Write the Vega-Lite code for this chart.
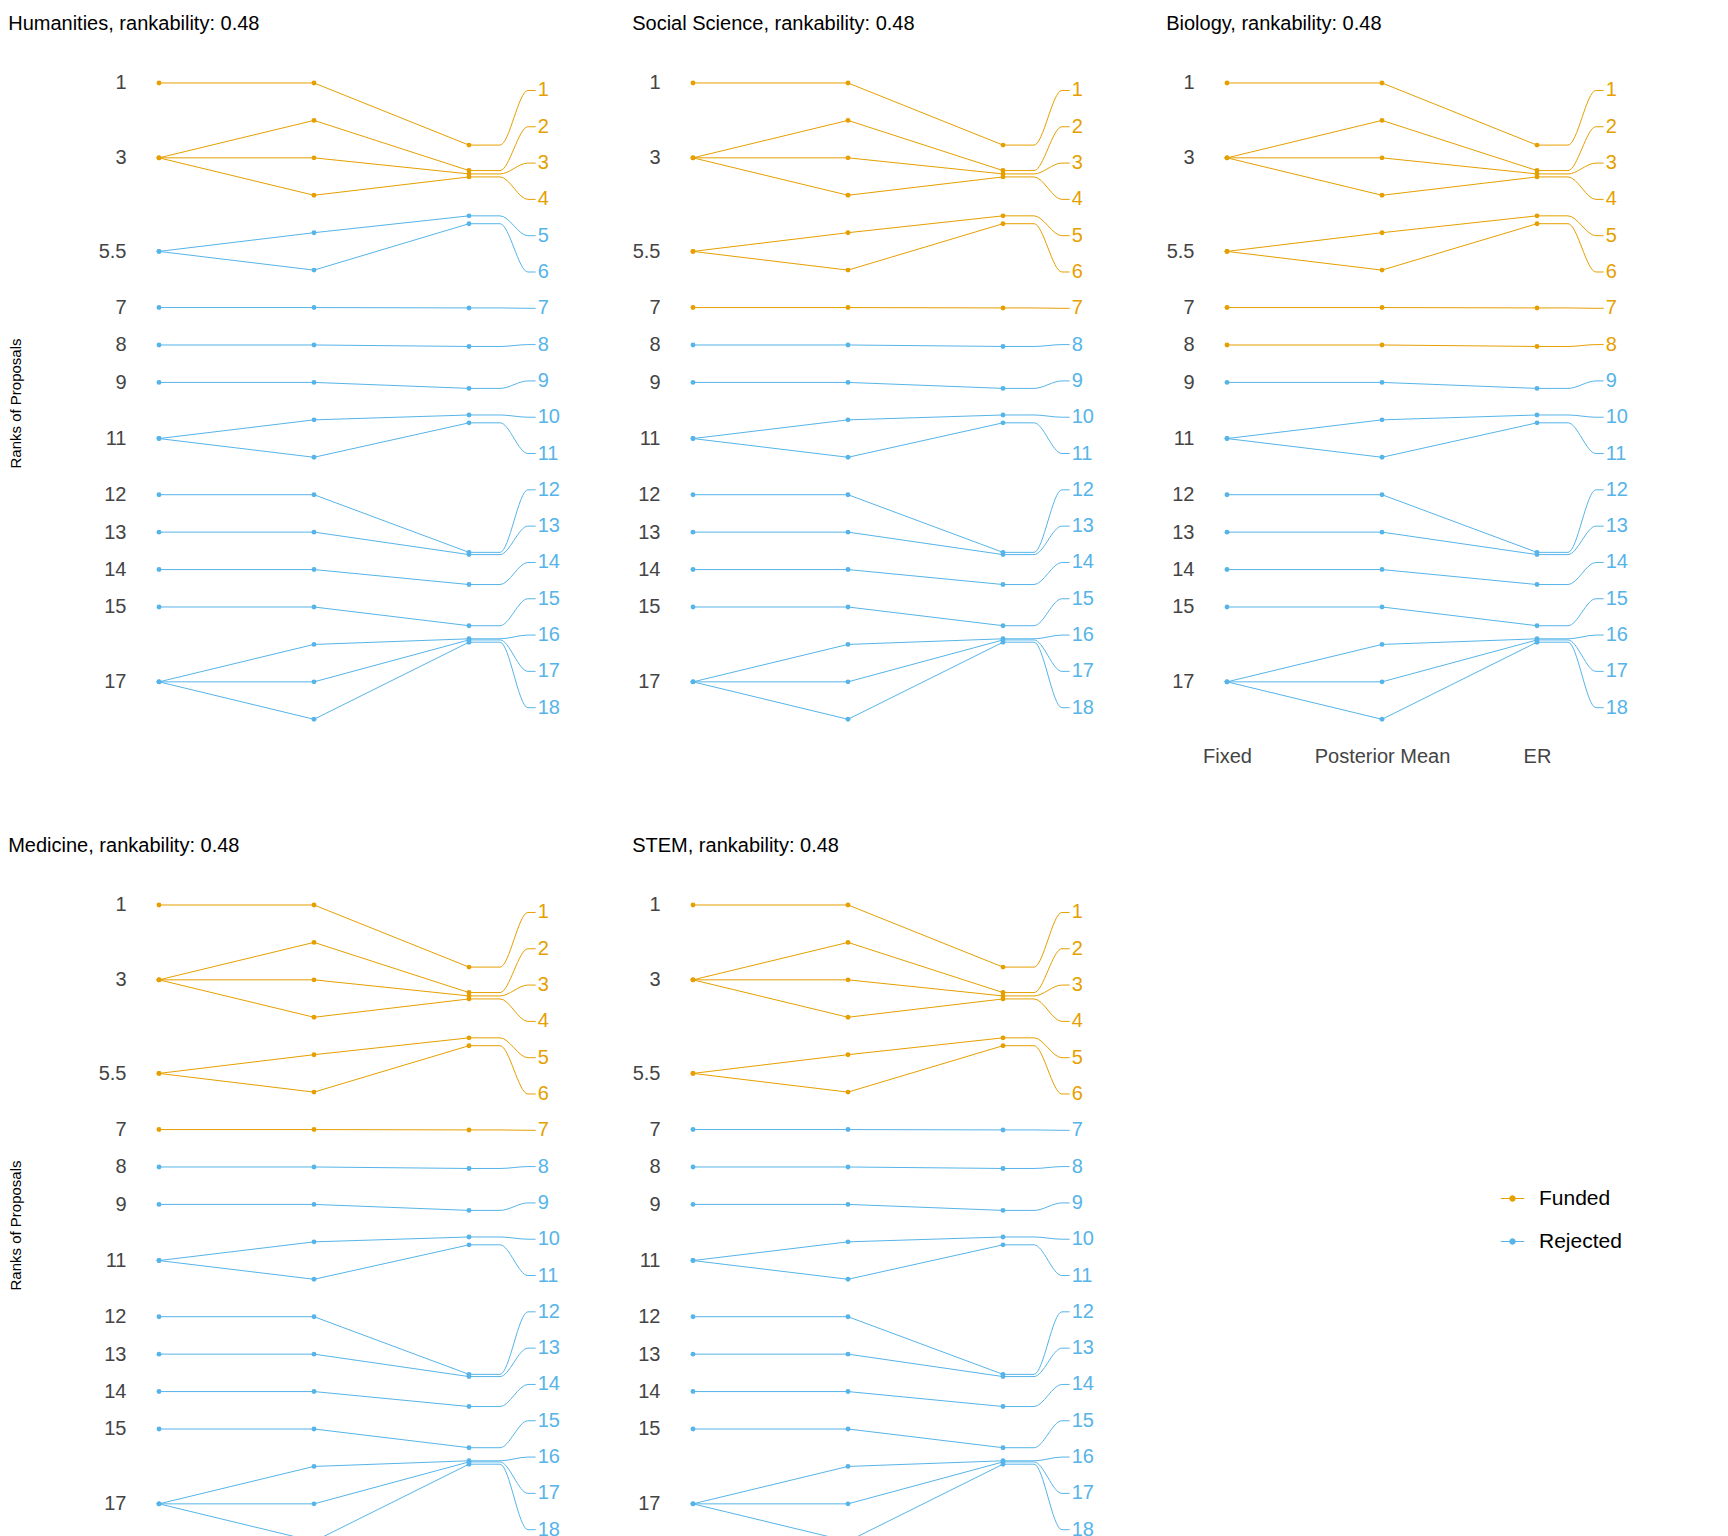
{
"$schema":"https://vega.github.io/schema/vega-lite/v6.json",
"background":"white",
"padding":{"left":8,"top":14,"right":5,"bottom":5},
"config":{"view":{"stroke":null},"font":"Liberation Sans","concat":{"spacing":70},
 "title":{"fontSize":20,"fontWeight":"normal","anchor":"start","frame":"bounds","color":"black","offset":34},
 "legend":{"title":null,"orient":"none","legendX":1372,"legendY":1118,"labelFontSize":21,"labelColor":"black","symbolType":"M-1,0H1M0.22,0A0.22,0.22 0 1,1 -0.22,0A0.22,0.22 0 1,1 0.22,0","symbolSize":550,"symbolStrokeWidth":1.2,"rowPadding":20,"labelOffset":14},
 "axis":{"grid":false,"domain":false,"ticks":false,"labelFontSize":20,"labelColor":"#444"}},
"datasets":{
"base":[
{"id":1,"f":1,"m":1,"e":2.66,"c":2.66,"l":1.2,"k":1.2},
{"id":2,"f":3,"m":2,"e":3.34,"c":3.34,"l":2.17,"k":2.17},
{"id":3,"f":3,"m":3,"e":3.43,"c":3.43,"l":3.14,"k":3.14},
{"id":4,"f":3,"m":4,"e":3.51,"c":3.51,"l":4.11,"k":4.11},
{"id":5,"f":5.5,"m":5,"e":4.55,"c":4.55,"l":5.08,"k":5.08},
{"id":6,"f":5.5,"m":6,"e":4.76,"c":4.76,"l":6.05,"k":6.05},
{"id":7,"f":7,"m":7,"e":7.01,"c":7.01,"l":7.02,"k":7.02},
{"id":8,"f":8,"m":8,"e":8.04,"c":8.04,"l":7.99,"k":7.99},
{"id":9,"f":9,"m":9,"e":9.16,"c":9.16,"l":8.96,"k":8.96},
{"id":10,"f":10.5,"m":10,"e":9.87,"c":9.87,"l":9.93,"k":9.93},
{"id":11,"f":10.5,"m":11,"e":10.08,"c":10.08,"l":10.9,"k":10.9},
{"id":12,"f":12,"m":12,"e":13.54,"c":13.54,"l":11.87,"k":11.87},
{"id":13,"f":13,"m":13,"e":13.6,"c":13.6,"l":12.84,"k":12.84},
{"id":14,"f":14,"m":14,"e":14.4,"c":14.4,"l":13.81,"k":13.81},
{"id":15,"f":15,"m":15,"e":15.5,"c":15.5,"l":14.78,"k":14.78},
{"id":16,"f":17,"m":16,"e":15.85,"c":15.85,"l":15.75,"k":15.75},
{"id":17,"f":17,"m":17,"e":15.88,"c":15.88,"l":16.72,"k":16.72},
{"id":18,"f":17,"m":18,"e":15.94,"c":15.94,"l":17.69,"k":17.69}],
"xpos":[{"key":"f","x":0},{"key":"m","x":1},{"key":"e","x":2},{"key":"c","x":2.2},{"key":"l","x":2.38},{"key":"k","x":2.43}],
"status":[
{"p":"H","id":1,"s":"Funded"},{"p":"H","id":2,"s":"Funded"},{"p":"H","id":3,"s":"Funded"},{"p":"H","id":4,"s":"Funded"},{"p":"H","id":5,"s":"Rejected"},{"p":"H","id":6,"s":"Rejected"},{"p":"H","id":7,"s":"Rejected"},{"p":"H","id":8,"s":"Rejected"},{"p":"H","id":9,"s":"Rejected"},{"p":"H","id":10,"s":"Rejected"},{"p":"H","id":11,"s":"Rejected"},{"p":"H","id":12,"s":"Rejected"},{"p":"H","id":13,"s":"Rejected"},{"p":"H","id":14,"s":"Rejected"},{"p":"H","id":15,"s":"Rejected"},{"p":"H","id":16,"s":"Rejected"},{"p":"H","id":17,"s":"Rejected"},{"p":"H","id":18,"s":"Rejected"},
{"p":"S","id":1,"s":"Funded"},{"p":"S","id":2,"s":"Funded"},{"p":"S","id":3,"s":"Funded"},{"p":"S","id":4,"s":"Funded"},{"p":"S","id":5,"s":"Funded"},{"p":"S","id":6,"s":"Funded"},{"p":"S","id":7,"s":"Funded"},{"p":"S","id":8,"s":"Rejected"},{"p":"S","id":9,"s":"Rejected"},{"p":"S","id":10,"s":"Rejected"},{"p":"S","id":11,"s":"Rejected"},{"p":"S","id":12,"s":"Rejected"},{"p":"S","id":13,"s":"Rejected"},{"p":"S","id":14,"s":"Rejected"},{"p":"S","id":15,"s":"Rejected"},{"p":"S","id":16,"s":"Rejected"},{"p":"S","id":17,"s":"Rejected"},{"p":"S","id":18,"s":"Rejected"},
{"p":"B","id":1,"s":"Funded"},{"p":"B","id":2,"s":"Funded"},{"p":"B","id":3,"s":"Funded"},{"p":"B","id":4,"s":"Funded"},{"p":"B","id":5,"s":"Funded"},{"p":"B","id":6,"s":"Funded"},{"p":"B","id":7,"s":"Funded"},{"p":"B","id":8,"s":"Funded"},{"p":"B","id":9,"s":"Rejected"},{"p":"B","id":10,"s":"Rejected"},{"p":"B","id":11,"s":"Rejected"},{"p":"B","id":12,"s":"Rejected"},{"p":"B","id":13,"s":"Rejected"},{"p":"B","id":14,"s":"Rejected"},{"p":"B","id":15,"s":"Rejected"},{"p":"B","id":16,"s":"Rejected"},{"p":"B","id":17,"s":"Rejected"},{"p":"B","id":18,"s":"Rejected"},
{"p":"M","id":1,"s":"Funded"},{"p":"M","id":2,"s":"Funded"},{"p":"M","id":3,"s":"Funded"},{"p":"M","id":4,"s":"Funded"},{"p":"M","id":5,"s":"Funded"},{"p":"M","id":6,"s":"Funded"},{"p":"M","id":7,"s":"Funded"},{"p":"M","id":8,"s":"Rejected"},{"p":"M","id":9,"s":"Rejected"},{"p":"M","id":10,"s":"Rejected"},{"p":"M","id":11,"s":"Rejected"},{"p":"M","id":12,"s":"Rejected"},{"p":"M","id":13,"s":"Rejected"},{"p":"M","id":14,"s":"Rejected"},{"p":"M","id":15,"s":"Rejected"},{"p":"M","id":16,"s":"Rejected"},{"p":"M","id":17,"s":"Rejected"},{"p":"M","id":18,"s":"Rejected"},
{"p":"T","id":1,"s":"Funded"},{"p":"T","id":2,"s":"Funded"},{"p":"T","id":3,"s":"Funded"},{"p":"T","id":4,"s":"Funded"},{"p":"T","id":5,"s":"Funded"},{"p":"T","id":6,"s":"Funded"},{"p":"T","id":7,"s":"Rejected"},{"p":"T","id":8,"s":"Rejected"},{"p":"T","id":9,"s":"Rejected"},{"p":"T","id":10,"s":"Rejected"},{"p":"T","id":11,"s":"Rejected"},{"p":"T","id":12,"s":"Rejected"},{"p":"T","id":13,"s":"Rejected"},{"p":"T","id":14,"s":"Rejected"},{"p":"T","id":15,"s":"Rejected"},{"p":"T","id":16,"s":"Rejected"},{"p":"T","id":17,"s":"Rejected"},{"p":"T","id":18,"s":"Rejected"}]
},
"resolve":{"scale":{"color":"shared"},"legend":{"color":"shared"}},
"vconcat":[
{"hconcat":[
{"title":"Humanities, rankability: 0.48","width":434,"height":670,"data":{"name":"status"},
 "transform":[{"filter":"datum.p=='H'"},{"lookup":"id","from":{"data":{"name":"base"},"key":"id","fields":["f","m","e","c","l","k"]}}],
 "encoding":{"color":{"field":"s","type":"nominal","scale":{"domain":["Funded","Rejected"],"range":["#E69F00","#56B4E9"]}}},
 "layer":[
 {"transform":[{"fold":["f","m","e"],"as":["key","r"]},{"lookup":"key","from":{"data":{"name":"xpos"},"key":"key","fields":["x"]}}],
  "mark":{"type":"line","strokeWidth":1},
  "encoding":{"x":{"field":"x","type":"quantitative","scale":{"domain":[-0.1,2.6]},"axis":null},
   "y":{"field":"r","type":"quantitative","scale":{"domain":[0.6,18.5],"reverse":true,"nice":false,"zero":false},
    "axis":{"values":[1,3,5.5,7,8,9,10.5,12,13,14,15,17],"format":"~g","title":"Ranks of Proposals","titleFontSize":15,"titleFontWeight":"normal","titleColor":"black","titlePadding":75}},"detail":{"field":"id"}}},
 {"transform":[{"fold":["f","m","e"],"as":["key","r"]},{"lookup":"key","from":{"data":{"name":"xpos"},"key":"key","fields":["x"]}}],
  "mark":{"type":"point","filled":true,"size":24,"opacity":1},
  "encoding":{"x":{"field":"x","type":"quantitative"},"y":{"field":"r","type":"quantitative"}}},
 {"transform":[{"fold":["e","c","l","k"],"as":["key","r"]},{"lookup":"key","from":{"data":{"name":"xpos"},"key":"key","fields":["x"]}}],
  "mark":{"type":"line","strokeWidth":1,"interpolate":"monotone"},
  "encoding":{"x":{"field":"x","type":"quantitative"},"y":{"field":"r","type":"quantitative"},"detail":{"field":"id"}}},
 {"mark":{"type":"text","align":"left","baseline":"middle","fontSize":20,"dx":2},
  "encoding":{"x":{"datum":2.43},"y":{"field":"l","type":"quantitative"},"text":{"field":"id"}}}
 ]},
{"title":"Social Science, rankability: 0.48","width":434,"height":670,"data":{"name":"status"},
 "transform":[{"filter":"datum.p=='S'"},{"lookup":"id","from":{"data":{"name":"base"},"key":"id","fields":["f","m","e","c","l","k"]}}],
 "encoding":{"color":{"field":"s","type":"nominal","scale":{"domain":["Funded","Rejected"],"range":["#E69F00","#56B4E9"]}}},
 "layer":[
 {"transform":[{"fold":["f","m","e"],"as":["key","r"]},{"lookup":"key","from":{"data":{"name":"xpos"},"key":"key","fields":["x"]}}],
  "mark":{"type":"line","strokeWidth":1},
  "encoding":{"x":{"field":"x","type":"quantitative","scale":{"domain":[-0.1,2.6]},"axis":null},
   "y":{"field":"r","type":"quantitative","scale":{"domain":[0.6,18.5],"reverse":true,"nice":false,"zero":false},
    "axis":{"values":[1,3,5.5,7,8,9,10.5,12,13,14,15,17],"format":"~g","title":null}},"detail":{"field":"id"}}},
 {"transform":[{"fold":["f","m","e"],"as":["key","r"]},{"lookup":"key","from":{"data":{"name":"xpos"},"key":"key","fields":["x"]}}],
  "mark":{"type":"point","filled":true,"size":24,"opacity":1},
  "encoding":{"x":{"field":"x","type":"quantitative"},"y":{"field":"r","type":"quantitative"}}},
 {"transform":[{"fold":["e","c","l","k"],"as":["key","r"]},{"lookup":"key","from":{"data":{"name":"xpos"},"key":"key","fields":["x"]}}],
  "mark":{"type":"line","strokeWidth":1,"interpolate":"monotone"},
  "encoding":{"x":{"field":"x","type":"quantitative"},"y":{"field":"r","type":"quantitative"},"detail":{"field":"id"}}},
 {"mark":{"type":"text","align":"left","baseline":"middle","fontSize":20,"dx":2},
  "encoding":{"x":{"datum":2.43},"y":{"field":"l","type":"quantitative"},"text":{"field":"id"}}}
 ]},
{"title":"Biology, rankability: 0.48","width":434,"height":670,"data":{"name":"status"},
 "transform":[{"filter":"datum.p=='B'"},{"lookup":"id","from":{"data":{"name":"base"},"key":"id","fields":["f","m","e","c","l","k"]}}],
 "encoding":{"color":{"field":"s","type":"nominal","scale":{"domain":["Funded","Rejected"],"range":["#E69F00","#56B4E9"]}}},
 "layer":[
 {"transform":[{"fold":["f","m","e"],"as":["key","r"]},{"lookup":"key","from":{"data":{"name":"xpos"},"key":"key","fields":["x"]}}],
  "mark":{"type":"line","strokeWidth":1},
  "encoding":{"x":{"field":"x","type":"quantitative","scale":{"domain":[-0.1,2.6]},"axis":{"values":[0,1,2],"labelExpr":"['Fixed','Posterior Mean','ER'][datum.value]","title":null,"labelPadding":8}},
   "y":{"field":"r","type":"quantitative","scale":{"domain":[0.6,18.5],"reverse":true,"nice":false,"zero":false},
    "axis":{"values":[1,3,5.5,7,8,9,10.5,12,13,14,15,17],"format":"~g","title":null}},"detail":{"field":"id"}}},
 {"transform":[{"fold":["f","m","e"],"as":["key","r"]},{"lookup":"key","from":{"data":{"name":"xpos"},"key":"key","fields":["x"]}}],
  "mark":{"type":"point","filled":true,"size":24,"opacity":1},
  "encoding":{"x":{"field":"x","type":"quantitative"},"y":{"field":"r","type":"quantitative"}}},
 {"transform":[{"fold":["e","c","l","k"],"as":["key","r"]},{"lookup":"key","from":{"data":{"name":"xpos"},"key":"key","fields":["x"]}}],
  "mark":{"type":"line","strokeWidth":1,"interpolate":"monotone"},
  "encoding":{"x":{"field":"x","type":"quantitative"},"y":{"field":"r","type":"quantitative"},"detail":{"field":"id"}}},
 {"mark":{"type":"text","align":"left","baseline":"middle","fontSize":20,"dx":2},
  "encoding":{"x":{"datum":2.43},"y":{"field":"l","type":"quantitative"},"text":{"field":"id"}}}
 ]}
]},
{"hconcat":[
{"title":"Medicine, rankability: 0.48","width":434,"height":670,"data":{"name":"status"},
 "transform":[{"filter":"datum.p=='M'"},{"lookup":"id","from":{"data":{"name":"base"},"key":"id","fields":["f","m","e","c","l","k"]}}],
 "encoding":{"color":{"field":"s","type":"nominal","scale":{"domain":["Funded","Rejected"],"range":["#E69F00","#56B4E9"]}}},
 "layer":[
 {"transform":[{"fold":["f","m","e"],"as":["key","r"]},{"lookup":"key","from":{"data":{"name":"xpos"},"key":"key","fields":["x"]}}],
  "mark":{"type":"line","strokeWidth":1},
  "encoding":{"x":{"field":"x","type":"quantitative","scale":{"domain":[-0.1,2.6]},"axis":{"values":[0,1,2],"labelExpr":"['Fixed','Posterior Mean','ER'][datum.value]","title":null,"labelPadding":8}},
   "y":{"field":"r","type":"quantitative","scale":{"domain":[0.6,18.5],"reverse":true,"nice":false,"zero":false},
    "axis":{"values":[1,3,5.5,7,8,9,10.5,12,13,14,15,17],"format":"~g","title":"Ranks of Proposals","titleFontSize":15,"titleFontWeight":"normal","titleColor":"black","titlePadding":75}},"detail":{"field":"id"}}},
 {"transform":[{"fold":["f","m","e"],"as":["key","r"]},{"lookup":"key","from":{"data":{"name":"xpos"},"key":"key","fields":["x"]}}],
  "mark":{"type":"point","filled":true,"size":24,"opacity":1},
  "encoding":{"x":{"field":"x","type":"quantitative"},"y":{"field":"r","type":"quantitative"}}},
 {"transform":[{"fold":["e","c","l","k"],"as":["key","r"]},{"lookup":"key","from":{"data":{"name":"xpos"},"key":"key","fields":["x"]}}],
  "mark":{"type":"line","strokeWidth":1,"interpolate":"monotone"},
  "encoding":{"x":{"field":"x","type":"quantitative"},"y":{"field":"r","type":"quantitative"},"detail":{"field":"id"}}},
 {"mark":{"type":"text","align":"left","baseline":"middle","fontSize":20,"dx":2},
  "encoding":{"x":{"datum":2.43},"y":{"field":"l","type":"quantitative"},"text":{"field":"id"}}}
 ]},
{"title":"STEM, rankability: 0.48","width":434,"height":670,"data":{"name":"status"},
 "transform":[{"filter":"datum.p=='T'"},{"lookup":"id","from":{"data":{"name":"base"},"key":"id","fields":["f","m","e","c","l","k"]}}],
 "encoding":{"color":{"field":"s","type":"nominal","scale":{"domain":["Funded","Rejected"],"range":["#E69F00","#56B4E9"]}}},
 "layer":[
 {"transform":[{"fold":["f","m","e"],"as":["key","r"]},{"lookup":"key","from":{"data":{"name":"xpos"},"key":"key","fields":["x"]}}],
  "mark":{"type":"line","strokeWidth":1},
  "encoding":{"x":{"field":"x","type":"quantitative","scale":{"domain":[-0.1,2.6]},"axis":{"values":[0,1,2],"labelExpr":"['Fixed','Posterior Mean','ER'][datum.value]","title":null,"labelPadding":8}},
   "y":{"field":"r","type":"quantitative","scale":{"domain":[0.6,18.5],"reverse":true,"nice":false,"zero":false},
    "axis":{"values":[1,3,5.5,7,8,9,10.5,12,13,14,15,17],"format":"~g","title":null}},"detail":{"field":"id"}}},
 {"transform":[{"fold":["f","m","e"],"as":["key","r"]},{"lookup":"key","from":{"data":{"name":"xpos"},"key":"key","fields":["x"]}}],
  "mark":{"type":"point","filled":true,"size":24,"opacity":1},
  "encoding":{"x":{"field":"x","type":"quantitative"},"y":{"field":"r","type":"quantitative"}}},
 {"transform":[{"fold":["e","c","l","k"],"as":["key","r"]},{"lookup":"key","from":{"data":{"name":"xpos"},"key":"key","fields":["x"]}}],
  "mark":{"type":"line","strokeWidth":1,"interpolate":"monotone"},
  "encoding":{"x":{"field":"x","type":"quantitative"},"y":{"field":"r","type":"quantitative"},"detail":{"field":"id"}}},
 {"mark":{"type":"text","align":"left","baseline":"middle","fontSize":20,"dx":2},
  "encoding":{"x":{"datum":2.43},"y":{"field":"l","type":"quantitative"},"text":{"field":"id"}}}
 ]}
]}
]
}
